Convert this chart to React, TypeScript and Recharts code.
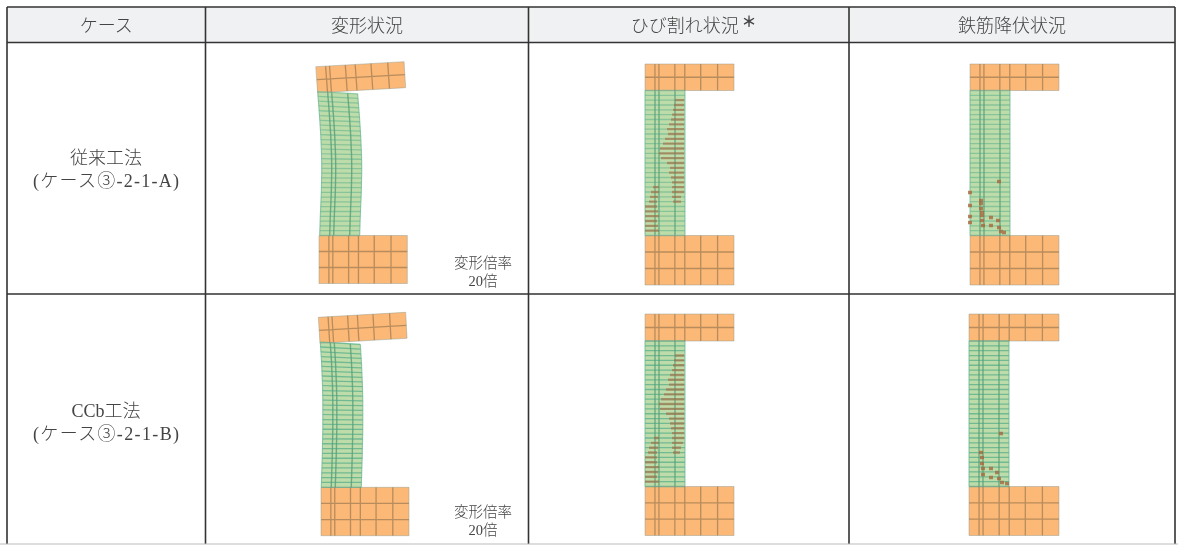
import { ComposedChart, Line, ReferenceArea, ReferenceDot, XAxis, YAxis } from 'recharts'

const WIDTH = 1178
const HEIGHT = 545

// Table frame, in picture units
const TABLE_COLUMNS = [7, 205.5, 528.5, 849, 1175]
const TABLE_ROWS = [7, 42.5, 294, 544]

const HEADERS = ['ケース', '変形状況', 'ひび割れ状況', '鉄筋降伏状況']

// Mesh of the section, measured from its left edge / top of each part
const MESH_COLUMNS = [10, 14, 30, 40, 56, 73]
const WALL_COLUMNS = [10, 14, 30]
const WALL_EDGES = [0, 40]
const WALL_ROWS = 30

// Deformed wall: left edge at each mesh level, top to bottom
const WALL_LEFT_A = [
  317.7, 318.0, 318.4, 318.8, 319.1, 319.5, 319.8, 320.1, 320.4, 320.7, 320.9, 321.1, 321.3, 321.5, 321.6, 321.7,
  321.7, 321.7, 321.6, 321.5, 321.4, 321.3, 321.1, 320.9, 320.7, 320.5, 320.3, 320.1, 320.0, 319.8, 319.7,
]
const WALL_LEFT_B = [
  320.3, 320.6, 320.9, 321.2, 321.5, 321.7, 321.9, 322.1, 322.3, 322.5, 322.6, 322.7, 322.8, 322.8, 322.8, 322.8,
  322.8, 322.8, 322.8, 322.7, 322.6, 322.5, 322.4, 322.3, 322.2, 322.0, 321.9, 321.7, 321.6, 321.4, 321.3,
]
// How much the right end of a row drops below its left end
const WALL_TILT = [
  2.3, 2.1, 2.0, 1.8, 1.7, 1.5, 1.4, 1.3, 1.1, 1.0, 0.9, 0.8, 0.7, 0.6, 0.5, 0.4, 0.4, 0.3, 0.2, 0.2, 0.1, 0.1, 0, 0, 0,
  0, 0, 0, 0, 0, 0,
]
const STRAIGHT_WALL = WALL_TILT.map(() => 0)

// Corners of the parts: [topLeft, topRight, bottomRight, bottomLeft] as x, y pairs
const SLAB_A = [315.7, 66.7, 404, 61.7, 405.7, 87.7, 317.7, 92.7]
const SLAB_B = [318.3, 317.3, 405.7, 312.3, 407, 338.3, 320, 343.3]
const BLOCK_A = [319, 235.5, 407.3, 235.5, 407.3, 283.5, 319, 283.5]
const BLOCK_B = [321, 487.3, 409, 487.3, 409, 535.7, 321, 535.7]

// Cracks per wall row: row, from, to (mesh units from the wall's left edge)
const CRACKS_A = [
  [2, 30, 39], [3, 29, 39], [4, 28, 39], [5, 27, 39], [6, 26, 39], [7, 24, 39], [8, 22, 39], [9, 23, 39], [10, 20, 39],
  [11, 18, 39], [12, 15, 39], [13, 14, 39], [14, 16, 39], [15, 22, 39], [16, 25, 39], [17, 24, 39], [18, 26, 39],
  [19, 27, 39], [20, 27, 39], [20, 8, 14], [21, 27, 39], [21, 6, 14], [22, 27, 36], [22, 5, 13], [23, 28, 36], [23, 4, 12],
  [24, 0, 12], [25, 0, 13], [26, 0, 14], [27, 0, 12], [28, 0, 13], [29, 0, 14],
]
const CRACKS_B = [
  [3, 30, 39], [4, 29, 39], [5, 28, 39], [6, 27, 39], [7, 25, 39], [8, 23, 39], [9, 24, 39], [10, 21, 39], [11, 19, 39],
  [12, 16, 39], [13, 14, 39], [14, 15, 39], [15, 21, 39], [16, 24, 39], [17, 25, 39], [18, 26, 39], [19, 27, 39],
  [20, 27, 39], [20, 9, 14], [21, 27, 38], [21, 6, 14], [22, 27, 36], [22, 4, 13], [23, 28, 35], [23, 3, 12],
  [24, 0, 12], [25, 0, 12], [26, 0, 14], [27, 0, 13], [28, 0, 12], [29, 0, 14],
]

// Yielded rebar: distance from wall left edge, height above the lower block
const YIELD_A = [
  [0, 43], [0, 30], [0, 19], [0, 13], [11, 35], [11, 32], [11, 27], [12, 23], [12, 20], [12, 15], [13, 10], [21, 18],
  [21, 10], [28, 15], [29, 8], [31, 4], [34, 3], [29, 54],
]
const YIELD_B = [
  [12, 34], [13, 29], [13, 23], [14, 18], [14, 12], [22, 18], [22, 9], [28, 14], [30, 8], [33, 4], [38, 3], [32, 53],
]

type Pt = { x: number; y: number | null }

const ORANGE = '#fcb877'
const GREEN = '#bedcaa'
const MESH_BROWN = '#94744f'
const WALL_LINE = '#62b48e'
const WALL_COLUMN_LINE = '#579f78'
const CRACK = '#a8683f'
const EDGE = '#8f9a8c'
const FRAME = '#333333'
const TEXT = '#444444'
const FONT = '"Liberation Serif", "Noto Sans CJK JP", serif'

function addSeg(list: Pt[], x1: number, y1: number, x2: number, y2: number) {
  list.push({ x: x1, y: y1 }, { x: x2, y: y2 }, { x: x2, y: null })
}

// Any point of a four-cornered part of the section
function corner(c: number[], u: number, v: number) {
  const tx = c[0] + (c[2] - c[0]) * u
  const ty = c[1] + (c[3] - c[1]) * u
  const bx = c[6] + (c[4] - c[6]) * u
  const by = c[7] + (c[5] - c[7]) * u
  return [tx + (bx - tx) * v, ty + (by - ty) * v]
}

function buildPanel(slab: number[], block: number[], wallLeft: number[], tilt: number[]) {
  const fillRows: Pt[] = []
  const partFills: { pts: Pt[]; w: number }[] = []
  const wallLines: Pt[] = []
  const wallColumns: Pt[] = []
  const wallEdges: Pt[] = []
  const mesh: Pt[] = []
  const edges: Pt[] = []
  const blockTop = block[1]
  const slabBottom = (slab[5] + slab[7]) / 2 + (slab[7] - slab[5]) * 0.27
  const rowH = (blockTop - slabBottom) / WALL_ROWS
  const levelY = (i: number) => slabBottom + rowH * i

  for (const part of [slab, block]) {
    const a = corner(part, 0, 0.5)
    const b = corner(part, 1, 0.5)
    const pts: Pt[] = []
    addSeg(pts, a[0], a[1], b[0], b[1])
    partFills.push({ pts, w: part[7] - part[1] })
    const rows = part === slab ? [0.5] : [1 / 3, 2 / 3]
    rows.forEach((v) => {
      const s = corner(part, 0, v)
      const e = corner(part, 1, v)
      addSeg(mesh, s[0], s[1], e[0], e[1])
    })
    MESH_COLUMNS.forEach((c) => {
      const s = corner(part, c / 89.5, 0)
      const e = corner(part, c / 89.5, 1)
      addSeg(mesh, s[0], s[1], e[0], e[1])
    })
    ;[[0, 0, 1, 0], [1, 0, 1, 1], [1, 1, 0, 1], [0, 1, 0, 0]].forEach(([u1, v1, u2, v2]) => {
      const s = corner(part, u1, v1)
      const e = corner(part, u2, v2)
      addSeg(edges, s[0], s[1], e[0], e[1])
    })
  }

  for (let i = 0; i < WALL_ROWS; i++) {
    const l = (wallLeft[i] + wallLeft[i + 1]) / 2
    const y = levelY(i + 0.5)
    addSeg(fillRows, l, y, l + 40, y + tilt[i])
  }
  for (let i = 0; i <= WALL_ROWS; i++) {
    addSeg(wallLines, wallLeft[i], levelY(i), wallLeft[i] + 40, levelY(i) + tilt[i])
  }
  const addWallColumn = (list: Pt[], c: number) => {
    for (let i = 0; i < WALL_ROWS; i++) {
      addSeg(list, wallLeft[i] + c, levelY(i) + (tilt[i] * c) / 40, wallLeft[i + 1] + c, levelY(i + 1) + (tilt[i + 1] * c) / 40)
    }
  }
  WALL_COLUMNS.forEach((c) => addWallColumn(wallColumns, c))
  WALL_EDGES.forEach((c) => addWallColumn(wallEdges, c))
  return { fillRows, partFills, wallLines, wallColumns, wallEdges, mesh, edges, rowH, levelY }
}

const PANELS = [
  { slab: SLAB_A, block: BLOCK_A, left: WALL_LEFT_A, tilt: WALL_TILT },
  { slab: SLAB_B, block: BLOCK_B, left: WALL_LEFT_B, tilt: WALL_TILT },
  { slab: [645, 64, 734, 64, 734, 90.5, 645, 90.5], block: [645, 235.5, 734, 235.5, 734, 285, 645, 285], left: STRAIGHT_WALL.map(() => 645), tilt: STRAIGHT_WALL, cracks: CRACKS_A },
  { slab: [645, 314, 734, 314, 734, 341, 645, 341], block: [645, 486.5, 734, 486.5, 734, 535.5, 645, 535.5], left: STRAIGHT_WALL.map(() => 645), tilt: STRAIGHT_WALL, cracks: CRACKS_B },
  { slab: [970, 64, 1059, 64, 1059, 90.5, 970, 90.5], block: [970, 235.5, 1059, 235.5, 1059, 285, 970, 285], left: STRAIGHT_WALL.map(() => 970), tilt: STRAIGHT_WALL, yielded: YIELD_A },
  { slab: [969, 314, 1059, 314, 1059, 341, 969, 341], block: [969, 486.5, 1059, 486.5, 1059, 535.5, 969, 535.5], left: STRAIGHT_WALL.map(() => 969), tilt: STRAIGHT_WALL, yielded: YIELD_B },
]

function CellText({ cx, cy, text, size = 18, fit, bold }: { cx?: number; cy?: number; text: string; size?: number; fit?: number; bold?: boolean }) {
  return (
    <text
      x={cx}
      y={cy}
      textAnchor="middle"
      dominantBaseline="central"
      fontFamily={FONT}
      fontSize={size}
      fontWeight={bold ? 700 : 300}
      fill={TEXT}
      textLength={fit}
      lengthAdjust={fit ? 'spacing' : undefined}
    >
      {text}
    </text>
  )
}

function Seg({ data, stroke, w, opacity }: { data: Pt[]; stroke: string; w: number; opacity?: number }) {
  return (
    <Line
      data={data}
      dataKey="y"
      type="linear"
      stroke={stroke}
      strokeWidth={w}
      strokeOpacity={opacity ?? 1}
      dot={false}
      activeDot={false}
      legendType="none"
      connectNulls={false}
      isAnimationActive={false}
    />
  )
}

export default function App() {
  const frame: Pt[] = []
  TABLE_COLUMNS.forEach((x) => addSeg(frame, x, TABLE_ROWS[0], x, TABLE_ROWS[3]))
  TABLE_ROWS.slice(0, 3).forEach((y) => addSeg(frame, TABLE_COLUMNS[0], y, TABLE_COLUMNS[4], y))
  const bottom: Pt[] = []
  addSeg(bottom, 0, TABLE_ROWS[3], WIDTH, TABLE_ROWS[3])

  const cols = HEADERS.map((_, i) => (TABLE_COLUMNS[i] + TABLE_COLUMNS[i + 1]) / 2)

  return (
    <div style={{ position: 'absolute', left: 0, top: 0, background: '#fff', filter: 'blur(0.7px)' }}>
      <ComposedChart width={WIDTH} height={HEIGHT} margin={{ top: 0, right: 0, bottom: 0, left: 0 }}>
        <XAxis type="number" dataKey="x" domain={[0, WIDTH]} hide />
        <YAxis type="number" domain={[0, HEIGHT]} reversed hide />
        <ReferenceArea x1={TABLE_COLUMNS[0]} x2={TABLE_COLUMNS[4]} y1={TABLE_ROWS[0]} y2={TABLE_ROWS[1]} fill="#f0f1f3" fillOpacity={1} stroke="none" />

        {PANELS.flatMap((p, n) => {
          const built = buildPanel(p.slab, p.block, p.left, p.tilt)
          const cracks: Pt[] = []
          ;(p.cracks ?? []).forEach(([row, from, to]) => {
            addSeg(cracks, p.left[row] + from, built.levelY(row), p.left[row] + to, built.levelY(row))
          })
          const marks: Pt[] = []
          ;(p.yielded ?? []).forEach(([dx, dy]) => {
            addSeg(marks, p.left[0] + dx - 2, p.block[1] - dy, p.left[0] + dx + 2, p.block[1] - dy)
          })
          return [
            <Seg key={`${n}f1`} data={built.partFills[0].pts} stroke={ORANGE} w={built.partFills[0].w} />,
            <Seg key={`${n}f2`} data={built.partFills[1].pts} stroke={ORANGE} w={built.partFills[1].w} />,
            <Seg key={`${n}r`} data={built.fillRows} stroke={GREEN} w={built.rowH + 0.4} />,
            <Seg key={`${n}w`} data={built.wallLines} stroke={WALL_LINE} w={1.3} opacity={n % 2 ? 0.85 : 0.6} />,
            <Seg key={`${n}v`} data={built.wallColumns} stroke={WALL_COLUMN_LINE} w={1.4} opacity={0.8} />,
            <Seg key={`${n}s`} data={built.wallEdges} stroke={WALL_LINE} w={1.1} opacity={0.7} />,
            <Seg key={`${n}m`} data={built.mesh} stroke={MESH_BROWN} w={1.3} opacity={0.65} />,
            <Seg key={`${n}e`} data={built.edges} stroke={EDGE} w={1} opacity={0.45} />,
            <Seg key={`${n}c`} data={cracks} stroke={CRACK} w={2.4} opacity={0.6} />,
            <Seg key={`${n}y`} data={marks} stroke={CRACK} w={3.6} opacity={0.8} />,
          ]
        })}

        <Seg data={frame} stroke={FRAME} w={1.6} />
        <Seg data={bottom} stroke="#bbbbbb" w={1} />

        {HEADERS.map((h, i) => (
          <ReferenceDot key={h} x={i === 2 ? cols[i] - 4 : cols[i]} y={26} r={0} shape={(s: any) => <CellText {...s} text={h} />} />
        ))}
        <ReferenceDot x={749} y={22} r={0} shape={(s: any) => <CellText {...s} text="＊" size={15} bold />} />

        <ReferenceDot x={106} y={158} r={0} shape={(s: any) => <CellText {...s} text="従来工法" />} />
        <ReferenceDot x={106} y={181} r={0} shape={(s: any) => <CellText {...s} text="(ケース③-2-1-A)" fit={146} />} />
        <ReferenceDot x={106} y={410.5} r={0} shape={(s: any) => <CellText {...s} text="CCb工法" />} />
        <ReferenceDot x={106} y={433.5} r={0} shape={(s: any) => <CellText {...s} text="(ケース③-2-1-B)" fit={146} />} />

        <ReferenceDot x={483} y={262.5} r={0} shape={(s: any) => <CellText {...s} text="変形倍率" size={14.5} />} />
        <ReferenceDot x={483} y={280.5} r={0} shape={(s: any) => <CellText {...s} text="20倍" size={14.5} />} />
        <ReferenceDot x={483} y={511.5} r={0} shape={(s: any) => <CellText {...s} text="変形倍率" size={14.5} />} />
        <ReferenceDot x={483} y={530} r={0} shape={(s: any) => <CellText {...s} text="20倍" size={14.5} />} />
      </ComposedChart>
    </div>
  )
}
